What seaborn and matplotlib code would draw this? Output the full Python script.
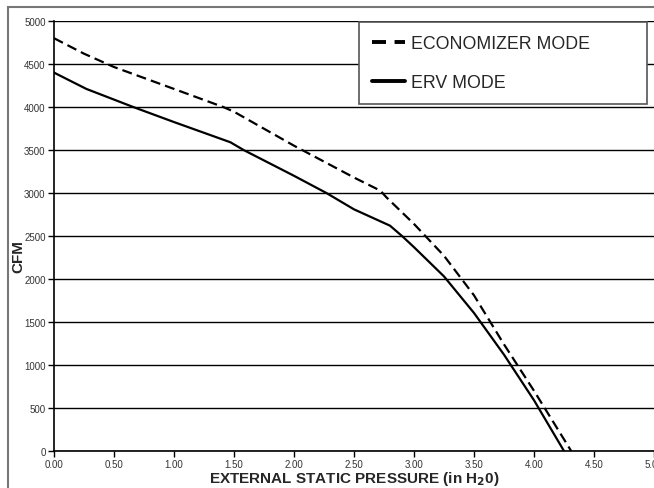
import matplotlib
matplotlib.use("Agg")
import matplotlib.pyplot as plt
import seaborn as sns
import pandas as pd
from matplotlib.patches import Rectangle
from matplotlib.lines import Line2D

sns.set_style("white")
plt.rcParams['font.family'] = ['Liberation Sans', 'DejaVu Sans']

econ_x = [0.0, 0.25, 0.5, 1.0, 1.41, 1.5, 2.0, 2.5, 2.72, 2.77, 3.0, 3.25, 3.5, 3.75, 4.0, 4.31]
econ_y = [4800, 4620, 4465, 4210, 4000, 3945, 3550, 3180, 3027, 2950, 2640, 2270, 1810, 1240, 700, 0]
erv_x = [0.0, 0.27, 0.66, 1.0, 1.47, 1.58, 2.0, 2.27, 2.5, 2.8, 2.9, 3.0, 3.25, 3.5, 3.75, 4.0, 4.25]
erv_y = [4400, 4210, 4000, 3825, 3590, 3500, 3200, 3000, 2810, 2620, 2500, 2370, 2030, 1605, 1120, 590, 0]
xticks = [0, 0.5, 1.0, 1.5, 2.0, 2.5, 3.0, 3.5, 4.0, 4.5, 5.0]
yticks = list(range(0, 5001, 500))

fig = plt.figure(figsize=(6.54, 4.89), dpi=100)
ax = fig.add_axes([54/654, 1-452/489, 1-54/654, (452-22)/489])

sns.lineplot(x=econ_x, y=econ_y, ax=ax, color='black', linewidth=1.6,
             linestyle=(0, (4.5, 2.3)), sort=False, estimator=None)
sns.lineplot(x=erv_x, y=erv_y, ax=ax, color='black', linewidth=1.6,
             sort=False, estimator=None)

ax.set_xlim(0, 5)
ax.set_ylim(0, 5000)
ax.set_xticks(xticks)
ax.set_xticklabels([f"{t:.2f}" for t in xticks])
ax.set_yticks(yticks)
ax.set_yticklabels([str(t) for t in yticks])
ax.yaxis.grid(True, color='black', linewidth=1.0)
ax.set_axisbelow(True)
for s in ['top', 'right']:
    ax.spines[s].set_visible(False)
for s in ['left', 'bottom']:
    ax.spines[s].set_color('black')
    ax.spines[s].set_linewidth(1.2)
ax.tick_params(axis='both', which='both', direction='out', length=4, width=1,
               color='black', labelsize=7, labelcolor='#333333', pad=2,
               bottom=True, left=True)

ax.set_xlabel(r"EXTERNAL STATIC PRESSURE (in H$_\mathbf{2}$0)", fontsize=11, fontweight='bold', labelpad=0)
ax.set_ylabel("CFM", fontsize=11, fontweight='bold')
ax.yaxis.set_label_coords(-0.047, 0.455)

handles = [Line2D([0], [0], color='black', linewidth=2.8, linestyle=(0, (3.6, 2.2))),
           Line2D([0], [0], color='black', linewidth=2.8)]
leg = ax.legend(handles, ["ECONOMIZER MODE", "ERV MODE"], loc='upper left',
                bbox_to_anchor=(305/600, (430-85)/430, 288/600, 84/430), bbox_transform=ax.transAxes,
                mode='expand',
                fontsize=12.8, frameon=True, fancybox=False, framealpha=1,
                edgecolor='#555555', handlelength=1.85, handletextpad=0.35,
                labelspacing=1.24, borderpad=0.74, borderaxespad=0)
leg.get_frame().set_linewidth(1.2)

fig.patches.append(Rectangle((8/654, -0.1), 1.2, 1-8/489+0.1, transform=fig.transFigure,
                             fill=False, edgecolor='#777777', linewidth=1.5))

fig.savefig("out.png", dpi=100)
